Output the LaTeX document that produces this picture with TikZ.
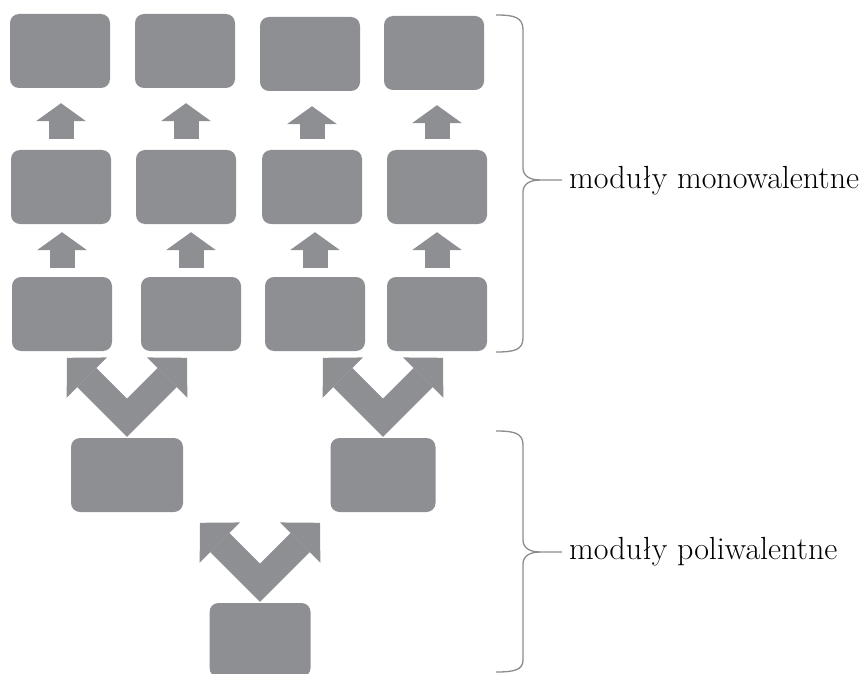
\documentclass[tikz,border=0pt]{standalone}
\usepackage{fontspec}
\usetikzlibrary{calc}
\usetikzlibrary{arrows.meta}

\definecolor{boxgray}{HTML}{8E8F93}
\definecolor{bracegray}{HTML}{8C8C90}

\begin{document}
\begin{tikzpicture}[x=1pt, y=-1pt,
	modul/.style={fill=boxgray, rounded corners=9pt, minimum width=100pt, minimum height=74pt, inner sep=0pt},
	uparrow/.style={draw=boxgray, line width=25pt, -{Triangle[length=18pt, width=50pt, line width=0pt]}},
	vee/.style={draw=boxgray, line width=27pt, line join=miter, {Triangle[length=28pt, width=57pt, line width=0pt]}-{Triangle[length=28pt, width=57pt, line width=0pt]}},
	brace/.style={draw=bracegray, line width=1.3pt},
	label/.style={anchor=base west, inner sep=0pt, font=\fontsize{32}{38}\selectfont}]

	\useasboundingbox (0,0) rectangle (865,674);

	% monovalent modules
	\foreach \x/\y [count=\i] in {60/51, 185/51, 310/54, 434/53}
	{
		\node [modul] at (\x,\y) (top\i){};
	}
	\foreach \x [count=\i] in {61,186,312,437}
	{
		\node [modul] at (\x,187) (mid\i){};
	}
	\foreach \x [count=\i] in {62,191,315,437}
	{
		\node [modul] at (\x,314) (bot\i){};
	}

	\foreach \i in {1,...,4}
	{
		\draw [uparrow, shorten <=11pt, shorten >=15pt] (mid\i.north) -- (mid\i.north |- top\i.south);
		\draw [uparrow, shorten <=9pt, shorten >=8pt] (bot\i.north) -- (bot\i.north |- mid\i.south);
	}

	% polyvalent modules
	\node [modul, minimum width=112pt] at (127,475) (poly1){};
	\node [modul, minimum width=105pt] at (383,475) (poly2){};
	\node [modul, minimum width=101pt] at (260,640) (poly3){};

	\foreach \p in {1,2,3}
	{
		\coordinate (v\p) at ($(poly\p.north)+(0,-20)$);
		\draw [vee] ($(v\p)+(-60,-60)$) -- (v\p) -- ($(v\p)+(60,-60)$);
	}

	% braces and labels
	\node [label] at (569,188) (mono){moduły monowalentne};
	\node [label] at (569,559) (poli){moduły poliwalentne};

	\draw [brace] (496,15) .. controls (514,15) and (523,17) .. (523,30) -- (523,168) .. controls (523,176) and (530,180) .. (540,180) -- (562,180);
	\draw [brace] (496,352) .. controls (514,352) and (523,350) .. (523,338) -- (523,192) .. controls (523,184) and (530,180) .. (540,180);
	\draw [brace] (496,431) .. controls (514,431) and (523,433) .. (523,445) -- (523,540) .. controls (523,548) and (530,552) .. (540,552) -- (562,552);
	\draw [brace] (496,672) .. controls (514,672) and (523,670) .. (523,660) -- (523,564) .. controls (523,556) and (530,552) .. (540,552);

\end{tikzpicture}
\end{document}
